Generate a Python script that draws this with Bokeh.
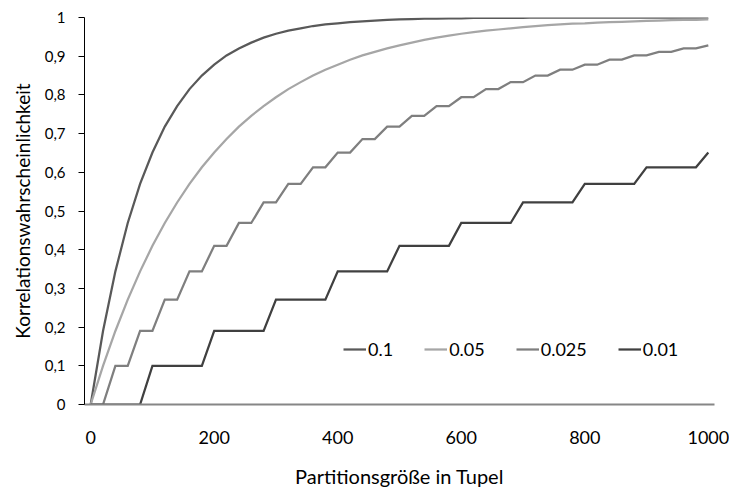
from bokeh.plotting import figure
from bokeh.models import Range1d, FixedTicker, CustomJSTickFormatter, Legend, LegendItem
from bokeh.embed import file_html
from bokeh.resources import INLINE

# Partition sizes (category points every 20 tuples)
sizes = [0, 20, 40, 60, 80, 100, 120, 140, 160, 180, 200, 220, 240, 260, 280, 300,
         320, 340, 360, 380, 400, 420, 440, 460, 480, 500, 520, 540, 560, 580, 600,
         620, 640, 660, 680, 700, 720, 740, 760, 780, 800, 820, 840, 860, 880, 900,
         920, 940, 960, 980, 1000]

s_01 = [0, 0.19, 0.344, 0.469, 0.570, 0.651, 0.718, 0.771, 0.815, 0.850, 0.878,
        0.902, 0.920, 0.935, 0.948, 0.958, 0.966, 0.972, 0.978, 0.982, 0.985,
        0.988, 0.990, 0.992, 0.994, 0.995, 0.996, 0.997, 0.997, 0.998, 0.998,
        0.999, 0.999, 0.999, 0.999, 0.999, 1.0, 1.0, 1.0, 1.0, 1.0, 1.0, 1.0,
        1.0, 1.0, 1.0, 1.0, 1.0, 1.0, 1.0, 1.0]

s_005 = [0, 0.1, 0.19, 0.271, 0.344, 0.410, 0.469, 0.522, 0.570, 0.613, 0.651,
         0.686, 0.718, 0.746, 0.771, 0.794, 0.815, 0.833, 0.850, 0.865, 0.878,
         0.891, 0.902, 0.911, 0.920, 0.928, 0.935, 0.942, 0.948, 0.953, 0.958,
         0.962, 0.966, 0.969, 0.972, 0.975, 0.978, 0.980, 0.982, 0.984, 0.985,
         0.987, 0.988, 0.989, 0.990, 0.991, 0.992, 0.993, 0.994, 0.994, 0.995]

s_0025 = [0, 0, 0.1, 0.1, 0.19, 0.19, 0.271, 0.271, 0.344, 0.344, 0.41, 0.41,
          0.469, 0.469, 0.522, 0.522, 0.57, 0.57, 0.613, 0.613, 0.651, 0.651,
          0.686, 0.686, 0.718, 0.718, 0.746, 0.746, 0.771, 0.771, 0.794, 0.794,
          0.815, 0.815, 0.833, 0.833, 0.85, 0.85, 0.865, 0.865, 0.878, 0.878,
          0.891, 0.891, 0.902, 0.902, 0.911, 0.911, 0.92, 0.92, 0.928]

s_001 = [0, 0, 0, 0, 0, 0.1, 0.1, 0.1, 0.1, 0.1, 0.19, 0.19, 0.19, 0.19, 0.19,
         0.271, 0.271, 0.271, 0.271, 0.271, 0.344, 0.344, 0.344, 0.344, 0.344,
         0.41, 0.41, 0.41, 0.41, 0.41, 0.469, 0.469, 0.469, 0.469, 0.469,
         0.522, 0.522, 0.522, 0.522, 0.522, 0.57, 0.57, 0.57, 0.57, 0.57,
         0.613, 0.613, 0.613, 0.613, 0.613, 0.651]

series_names = ["0.1", "0.05", "0.025", "0.01"]
series_values = [s_01, s_005, s_0025, s_001]
series_colors = ["#595959", "#a6a6a6", "#7f7f7f", "#404040"]

y_ticks = [0, 0.1, 0.2, 0.3, 0.4, 0.5, 0.6, 0.7, 0.8, 0.9, 1.0]
x_ticks = [0, 200, 400, 600, 800, 1000]

FONT = "Lato"

p = figure(width=729, height=493, output_backend="svg", toolbar_location=None,
           x_range=Range1d(-10, 1010), y_range=Range1d(0, 1))
p.min_border_left = 84
p.min_border_right = 15
p.min_border_top = 17
p.min_border_bottom = 89
p.outline_line_color = None
p.grid.visible = False
p.background_fill_color = "white"
p.border_fill_color = "white"

renderers = []
for name, vals, col in zip(series_names, series_values, series_colors):
    r = p.line(sizes, vals, line_color=col, line_width=2.25, line_join="miter")
    renderers.append((name, r))

# axes
xa = p.xaxis[0]
xa.ticker = FixedTicker(ticks=x_ticks)
xa.axis_line_color = "#868686"
xa.axis_line_width = 2
xa.major_tick_line_color = None
xa.minor_tick_line_color = None
xa.major_label_standoff = 20
xa.major_label_text_font = FONT
xa.major_label_text_font_size = "18px"
xa.major_label_text_color = "#000000"
xa.axis_label = "Partitionsgröße in Tupel"
xa.axis_label_text_font = FONT
xa.axis_label_text_font_size = "20px"
xa.axis_label_text_font_style = "normal"
xa.axis_label_text_color = "#000000"
xa.axis_label_standoff = 17

ya = p.yaxis[0]
ya.ticker = FixedTicker(ticks=y_ticks)
ya.formatter = CustomJSTickFormatter(code="""
    var s = (Math.round(tick*10)/10).toString();
    return s.replace('.', ',');
""")
ya.axis_line_color = "#000000"
ya.axis_line_width = 1
ya.major_tick_line_color = "#000000"
ya.major_tick_out = 6
ya.major_tick_in = 0
ya.minor_tick_line_color = None
ya.major_label_standoff = 13
ya.major_label_text_font = FONT
ya.major_label_text_font_size = "15px"
ya.major_label_text_color = "#000000"
ya.axis_label = "Korrelationswahrscheinlichkeit"
ya.axis_label_text_font = FONT
ya.axis_label_text_font_size = "19px"
ya.axis_label_text_font_style = "normal"
ya.axis_label_text_color = "#000000"
ya.axis_label_standoff = 8

legend = Legend(items=[LegendItem(label=n, renderers=[r]) for n, r in renderers],
                orientation="horizontal", location=(259, 44))
legend.background_fill_alpha = 0
legend.border_line_color = None
legend.padding = 0
legend.margin = 0
legend.spacing = 31
legend.glyph_width = 23
legend.glyph_height = 20
legend.label_standoff = 2
legend.label_text_font = FONT
legend.label_text_font_size = "18px"
legend.label_text_color = "#000000"
legend.label_height = 20
p.add_layout(legend, "center")

open("out.html", "w").write(file_html(p, INLINE))
